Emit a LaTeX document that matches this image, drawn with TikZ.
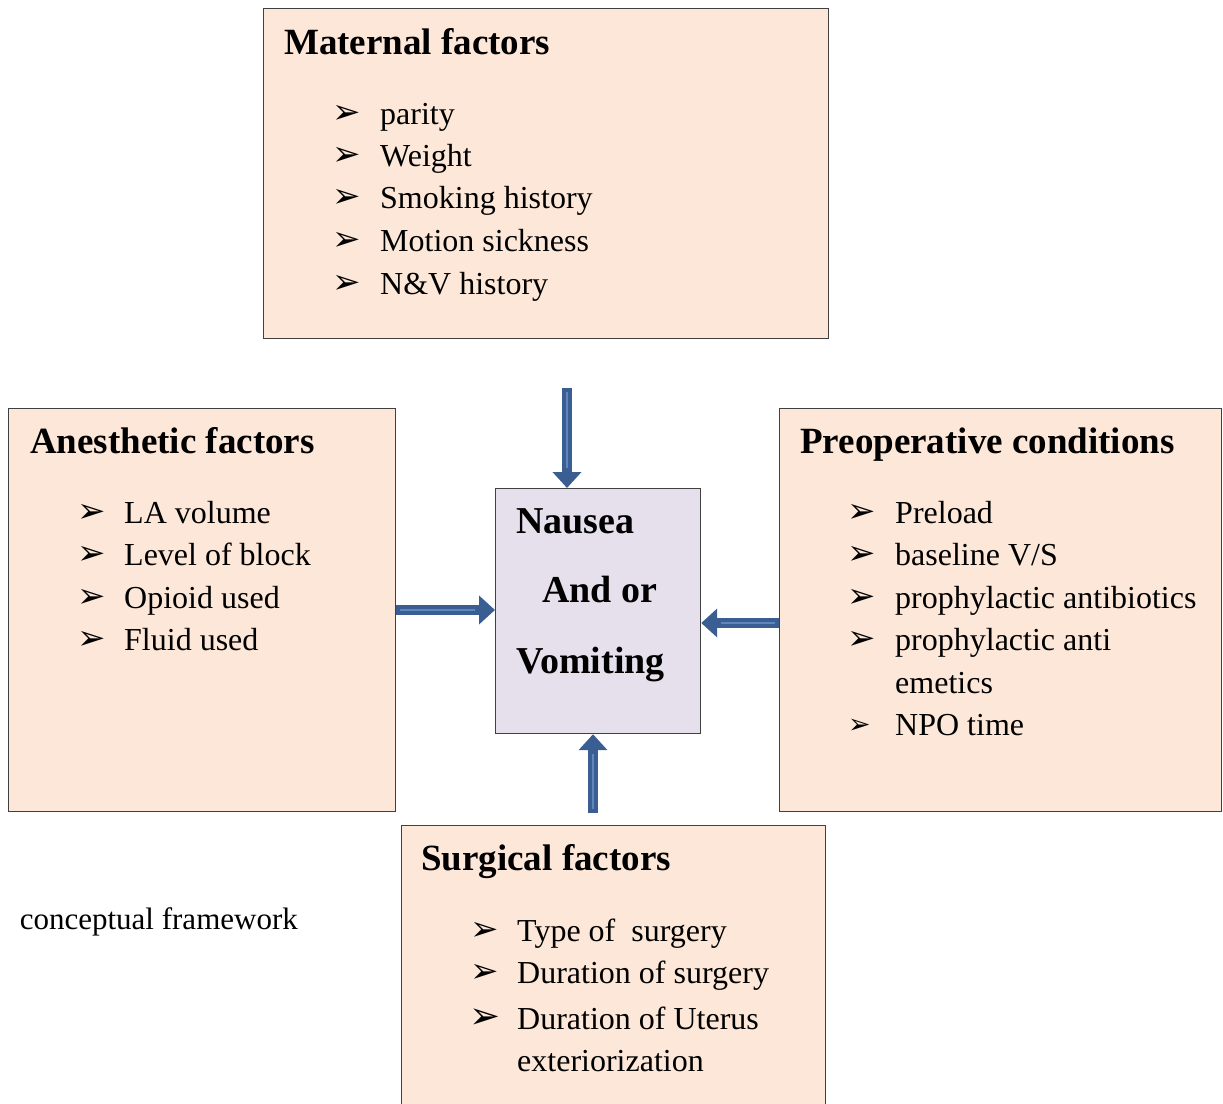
\documentclass[tikz,border=0pt]{standalone}
\usepackage{fontspec}
\setmainfont{Liberation Serif}
\newfontfamily\symfont{DejaVu Sans}
\usetikzlibrary{arrows.meta}

\definecolor{peach}{RGB}{252,231,216}
\definecolor{lavender}{RGB}{229,224,236}
\definecolor{arrowblue}{RGB}{58,94,145}
\definecolor{arrowlight}{RGB}{96,134,190}

\tikzset{
  factorbox/.style={draw=black!75, line width=0.9pt, fill=peach},
  centerbox/.style={draw=black!75, line width=1.2pt, fill=lavender},
  boxtitle/.style={anchor=base west, inner sep=0pt, font=\fontsize{37}{44}\selectfont\bfseries},
  centertext/.style={anchor=base west, inner sep=0pt, font=\fontsize{38}{44}\selectfont\bfseries},
  itemtext/.style={anchor=base west, inner sep=0pt, font=\fontsize{32}{42}\selectfont},
  bullet/.style={anchor=base west, inner sep=0pt, font=\fontsize{34}{40}\selectfont\symfont},
  blockarrow/.style={arrowblue, line width=10pt,
    -{Triangle[length=16pt, width=28pt]}},
  arrowshine/.style={arrowlight, line width=1.6pt, shorten >=20pt, shorten <=4pt}
}

\begin{document}
\begin{tikzpicture}[x=1pt, y=-1pt]

\useasboundingbox (0,0) rectangle (1223,1103);

% boxes
\node[factorbox, minimum width=565pt, minimum height=330pt, anchor=north west] (maternal) at (263,8) {};
\node[factorbox, minimum width=387pt, minimum height=403pt, anchor=north west] (anesthetic) at (8,408) {};
\node[factorbox, minimum width=442pt, minimum height=403pt, anchor=north west] (preop) at (779,408) {};
\node[factorbox, minimum width=424pt, minimum height=300pt, anchor=north west] (surgical) at (401,825) {};
\node[centerbox, minimum width=205pt, minimum height=245pt, anchor=north west] (nv) at (495,488) {};

% maternal factors
\node[boxtitle] (matT) at (284,54) {Maternal factors};
\node[bullet] (matB1) at (332,123) {➢};
\node[itemtext] (mat1) at (380,124) {parity};
\node[bullet] (matB2) at (332,165) {➢};
\node[itemtext] (mat2) at (380,166) {Weight};
\node[bullet] (matB3) at (332,207) {➢};
\node[itemtext] (mat3) at (380,208) {Smoking history};
\node[bullet] (matB4) at (332,250) {➢};
\node[itemtext] (mat4) at (380,251) {Motion sickness};
\node[bullet] (matB5) at (332,293) {➢};
\node[itemtext] (mat5) at (380,294) {N\&V history};

% anesthetic factors
\node[boxtitle] (anT) at (30,453) {Anesthetic factors};
\node[bullet] (anB1) at (77,522) {➢};
\node[itemtext] (an1) at (124,523) {LA volume};
\node[bullet] (anB2) at (77,564) {➢};
\node[itemtext] (an2) at (124,565) {Level of block};
\node[bullet] (anB3) at (77,607) {➢};
\node[itemtext] (an3) at (124,608) {Opioid used};
\node[bullet] (anB4) at (77,649) {➢};
\node[itemtext] (an4) at (124,650) {Fluid used};

% preoperative conditions
\node[boxtitle] (prT) at (800,453) {Preoperative conditions};
\node[bullet] (prB1) at (847,522) {➢};
\node[itemtext] (pr1) at (895,523) {Preload};
\node[bullet] (prB2) at (847,564) {➢};
\node[itemtext] (pr2) at (895,565) {baseline V/S};
\node[bullet] (prB3) at (847,607) {➢};
\node[itemtext] (pr3) at (895,608) {prophylactic antibiotics};
\node[bullet] (prB4) at (847,649) {➢};
\node[itemtext] (pr4) at (895,650) {prophylactic anti};
\node[itemtext] (pr4b) at (895,693) {emetics};
\node[bullet, font=\fontsize{27}{32}\selectfont\symfont] (prB5) at (848,733) {➢};
\node[itemtext] (pr5) at (895,735) {NPO time};

% surgical factors
\node[boxtitle] (suT) at (421,870) {Surgical factors};
\node[bullet] (suB1) at (470,940) {➢};
\node[itemtext] (su1) at (517,941) {Type of\ \ surgery};
\node[bullet] (suB2) at (470,982) {➢};
\node[itemtext] (su2) at (517,983) {Duration of surgery};
\node[bullet, font=\fontsize{37}{42}\selectfont\symfont] (suB3) at (469,1028) {➢};
\node[itemtext] (su3) at (517,1029) {Duration of Uterus};
\node[itemtext] (su3b) at (517,1071) {exteriorization};

% outcome
\node[centertext] (nvA) at (516,533) {Nausea};
\node[centertext] (nvB) at (542,602) {And or};
\node[centertext] (nvC) at (516,673) {Vomiting};

% caption
\node[itemtext, font=\fontsize{31}{36}\selectfont, anchor=base east] (caption) at (298,929) {conceptual framework};

% arrows
\coordinate (topstart) at (567,388);
\coordinate (bottomstart) at (593,813);
\draw[blockarrow] (topstart) -- (nv.north -| topstart);
\draw[arrowshine] (topstart) -- (nv.north -| topstart);
\draw[blockarrow] (anesthetic.east |- 0,610) -- (nv.west |- 0,610);
\draw[arrowshine] (anesthetic.east |- 0,610) -- (nv.west |- 0,610);
\draw[blockarrow] (preop.west |- 0,623) -- (nv.east |- 0,623);
\draw[arrowshine] (preop.west |- 0,623) -- (nv.east |- 0,623);
\draw[blockarrow] (bottomstart) -- (nv.south -| bottomstart);
\draw[arrowshine] (bottomstart) -- (nv.south -| bottomstart);

\end{tikzpicture}
\end{document}
